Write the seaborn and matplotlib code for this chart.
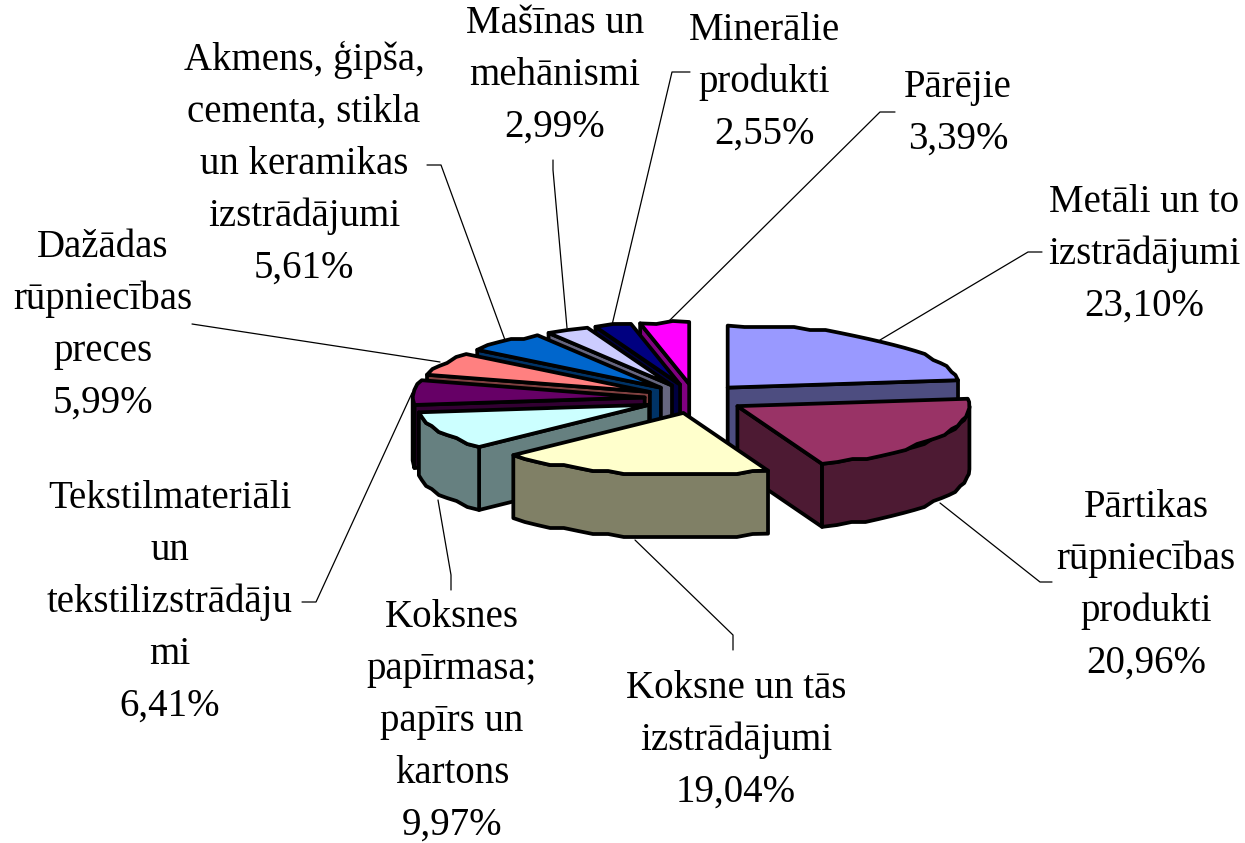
import numpy as np
import matplotlib.pyplot as plt
from matplotlib.patches import Polygon
import seaborn as sns

names = [
    ['Metāli un to', 'izstrādājumi'],
    ['Pārtikas', 'rūpniecības', 'produkti'],
    ['Koksne un tās', 'izstrādājumi'],
    ['Koksnes', 'papīrmasa;', 'papīrs un', 'kartons'],
    ['Tekstilmateriāli', 'un', 'tekstilizstrādāju', 'mi'],
    ['Dažādas', 'rūpniecības', 'preces'],
    ['Akmens, ģipša,', 'cementa, stikla', 'un keramikas', 'izstrādājumi'],
    ['Mašīnas un', 'mehānismi'],
    ['Minerālie', 'produkti'],
    ['Pārējie'],
]
shares = [23.10, 20.96, 19.04, 9.97, 6.41, 5.99, 5.61, 2.99, 2.55, 3.39]
top_colors = ['#9999FF', '#993366', '#FFFFCC', '#CCFFFF', '#660066',
              '#FF8080', '#0066CC', '#CCCCFF', '#000080', '#FF00FF']
side_colors = ['#4D4D80', '#4D1A33', '#808066', '#668080', '#330033',
               '#804040', '#003366', '#666680', '#000040', '#800080']

# Label placement (centre x, first baseline y) and leader lines, in pixels
label_pos = [(1144, 212), (1146, 517), (736, 698), (452, 627), (170, 508),
             (103, 257), (304, 70), (555, 33), (764, 40), (958, 97)]
leaders = [
    [(880, 340), (1028, 252), (1042, 252)],
    [(940, 503), (1040, 582), (1052, 582)],
    [(635, 540), (733, 635), (733, 650)],
    [(438, 500), (451, 575), (451, 590)],
    [(412, 393), (316, 602), (302, 602)],
    [(440, 362), (192, 324)],
    [(505, 340), (441, 165), (427, 165)],
    [(567, 328), (553, 170), (553, 160)],
    [(612, 325), (672, 72), (690, 72)],
    [(668, 322), (880, 112), (895, 112)],
]

# Pie geometry in pixels
cx, cy = 694.5, 398.6
rx, ry = 232, 62
depth = 63
explode_x, explode_y = 50, 14.7
line_w = 2.7
line_gap = 52
rim_step = 3  # the original rim is stepped, not a clean curve

sns.set_theme(style='white')
plt.rcParams['font.family'] = ['Liberation Serif', 'DejaVu Serif']

fig, ax = plt.subplots(figsize=(12.45, 8.43), dpi=100)
ax.set_position([0, 0, 1, 1])
ax.set_xlim(0, 1245)
ax.set_ylim(843, 0)
ax.axis('off')

shares_arr = np.array(shares)
edges = np.concatenate([[0], np.cumsum(shares_arr)]) / shares_arr.sum() * 360


def rim(x0, y0, a1, a2, drop=0):
    n = max(int(abs(a2 - a1) / 4), 1) + 1
    t = np.radians(np.linspace(a1, a2, n))
    ys = y0 - ry * np.cos(t)
    stepped = np.round(ys / rim_step) * rim_step
    stepped[[0, -1]] = ys[[0, -1]]
    return np.column_stack([x0 + rx * np.sin(t), stepped + drop])


def face(pts, color, z):
    ax.add_patch(Polygon(pts, closed=True, facecolor=color, edgecolor='black',
                         linewidth=line_w, joinstyle='round', zorder=z))


# back slices first, the two front ones last
draw_order = [0, 9, 8, 7, 6, 5, 4, 3, 1, 2]
for z, i in enumerate(draw_order):
    a1, a2 = edges[i], edges[i + 1]
    mid = np.radians((a1 + a2) / 2)
    x0 = cx + explode_x * np.sin(mid)
    y0 = cy - explode_y * np.cos(mid)
    base = z * 10 + 2
    # radial walls that face the viewer
    for a, shown in ((a1, np.sin(np.radians(a1)) < -1e-6), (a2, np.sin(np.radians(a2)) > 1e-6)):
        if shown:
            p = rim(x0, y0, a, a)[0]
            face([(x0, y0), p, (p[0], p[1] + depth), (x0, y0 + depth)], side_colors[i], base)
    # outer wall, front half only
    lo, hi = max(a1, 90), min(a2, 270)
    if hi > lo:
        upper = rim(x0, y0, lo, hi)
        lower = rim(x0, y0, hi, lo, depth)
        face(np.vstack([upper, lower]), side_colors[i], base + 1)
    # top
    face(np.vstack([[(x0, y0)], rim(x0, y0, a1, a2)]), top_colors[i], base + 2)

for pts in leaders:
    xs, ys = zip(*pts)
    ax.plot(xs, ys, color='black', linewidth=0.9, zorder=1)

for lines, share, (x, y) in zip(names, shares, label_pos):
    rows = lines + [f'{share:.2f}%'.replace('.', ',')]
    for k, row in enumerate(rows):
        ax.text(x, y + k * line_gap, row, ha='center', va='baseline',
                fontsize=28, color='black', zorder=200)

fig.savefig('out.png', dpi=100, facecolor='white')
